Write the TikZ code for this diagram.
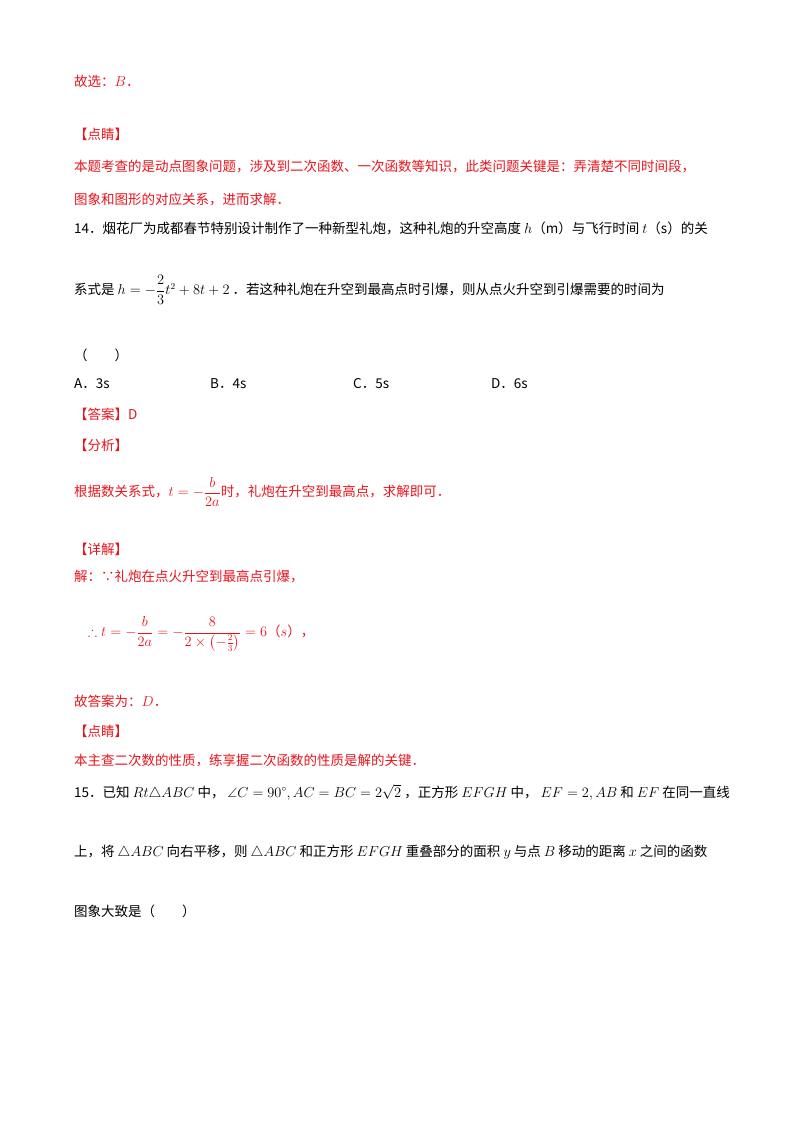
\documentclass[tikz,border=0pt]{standalone}
\usepackage{fontspec}
\usepackage{amsmath,amssymb}
\newfontfamily\cjk{Noto Sans CJK SC}
\definecolor{rd}{RGB}{232,20,28}
\begin{document}
\begin{tikzpicture}[x=1pt,y=-1pt,
  t/.style={anchor=west,inner sep=0pt,font=\cjk\fontsize{13.5}{16}\selectfont},
  r/.style={t,text=rd}]
\useasboundingbox (0,0) rectangle (800,1132);
\node[r] (l1) at (74,81) {故选：$B$．};
\node[r] (l2) at (74,134) {【点睛】};
\node[r] (l3) at (74,167) {本题考查的是动点图象问题，涉及到二次函数、一次函数等知识，此类问题关键是：弄清楚不同时间段，};
\node[r] (l4) at (74,199) {图象和图形的对应关系，进而求解．};
\node[t] (l5) at (74,228) {14．烟花厂为成都春节特别设计制作了一种新型礼炮，这种礼炮的升空高度 $h$（m）与飞行时间 $t$（s）的关};
\node[t] (l6) at (74,290) {系式是 $h=-\dfrac{2}{3}t^2+8t+2$ ．若这种礼炮在升空到最高点时引爆，则从点火升空到引爆需要的时间为};
\node[t] (l7) at (74,355) {（\qquad）};
\node[t] (oa) at (74,384) {A．3s};
\node[t] (ob) at (210,384) {B．4s};
\node[t] (oc) at (353,384) {C．5s};
\node[t] (od) at (491,384) {D．6s};
\node[r] (l8) at (74,414) {【答案】D};
\node[r] (l9) at (74,445) {【分析】};
\node[r] (l10) at (74,492) {根据数关系式，$t=-\dfrac{b}{2a}$时，礼炮在升空到最高点，求解即可．};
\node[r] (l11) at (74,549) {【详解】};
\node[r] (l12) at (74,577) {解：∵礼炮在点火升空到最高点引爆，};
\node[r] (l13) at (88,634) {$\therefore t=-\dfrac{b}{2a}=-\dfrac{8}{2\times\left(-\tfrac{2}{3}\right)}=6$（$s$），};
\node[r] (l14) at (74,701) {故答案为：$D$．};
\node[r] (l15) at (74,731) {【点睛】};
\node[r] (l16) at (74,760) {本主查二次数的性质，练享握二次函数的性质是解的关键．};
\node[t] (l17) at (74,792) {15．已知 $Rt\triangle ABC$ 中， $\angle C=90^\circ, AC=BC=2\sqrt{2}$ ，正方形 $EFGH$ 中， $EF=2, AB$ 和 $EF$ 在同一直线};
\node[t] (l18) at (74,852) {上，将 $\triangle ABC$ 向右平移，则 $\triangle ABC$ 和正方形 $EFGH$ 重叠部分的面积 $y$ 与点 $B$ 移动的距离 $x$ 之间的函数};
\node[t] (l19) at (74,911) {图象大致是（\qquad）};
\end{tikzpicture}
\end{document}
